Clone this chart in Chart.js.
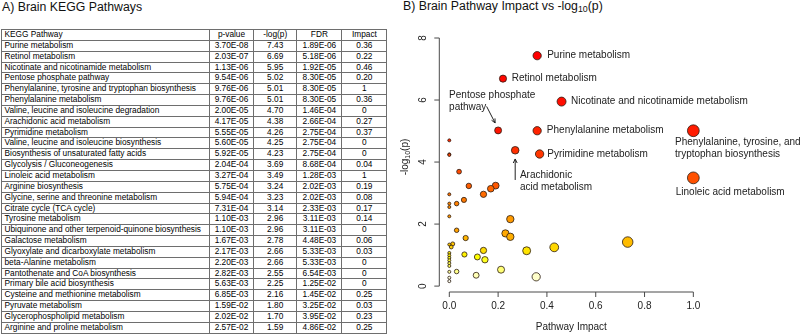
<!DOCTYPE html>
<html lang="en">
<head>
<meta charset="UTF-8" />
<title>Brain KEGG Pathways</title>
<script src="https://cdn.jsdelivr.net/npm/chart.js@4.4.1/dist/chart.umd.min.js"></script>
<style>
  html, body { margin: 0; padding: 0; background: #fff; }
  body {
    width: 802px; height: 336px; position: relative; overflow: hidden;
    font-family: "Liberation Sans", Arial, sans-serif; color: #000;
  }
  .panel-title { position: absolute; font-size: 12.3px; line-height: 14px; white-space: nowrap; color: #111; }
  #titleA { left: 2px; top: 0; }
  #titleB { left: 403px; top: -1px; }
  .panel-title sub { font-size: 8.8px; vertical-align: -2px; line-height: 0; }
  table {
    position: absolute; left: 1px; top: 29px;
    border-collapse: collapse; table-layout: fixed; width: 385.4px;
    font-size: 8.3px;
  }
  td, th {
    border: 1px solid #6e6e6e; padding: 0; height: 9.85px; line-height: 9.85px;
    font-weight: normal; text-align: center; white-space: nowrap; overflow: hidden;
  }
  td:first-child, th:first-child { text-align: left; padding-left: 2.5px; }
  #chartBox { position: absolute; left: 400px; top: 0; width: 402px; height: 336px; }
</style>
</head>
<body>
  <div class="panel-title" id="titleA">A) Brain KEGG Pathways</div>
  <div class="panel-title" id="titleB">B) Brain Pathway Impact vs -log<sub>10</sub>(p)</div>

  <table id="kegg">
    <colgroup>
      <col style="width:208px" />
      <col style="width:44px" />
      <col style="width:43.4px" />
      <col style="width:45px" />
      <col style="width:45px" />
    </colgroup>
    <thead></thead>
    <tbody></tbody>
  </table>

  <div id="chartBox"><canvas id="bubble" width="402" height="336"></canvas></div>

<script>
  // table columns
  const headers = ["KEGG Pathway", "p-value", "-log(p)", "FDR", "Impact"];
  const pathways = [
    "Purine metabolism",
    "Retinol metabolism",
    "Nicotinate and nicotinamide metabolism",
    "Pentose phosphate pathway",
    "Phenylalanine, tyrosine and tryptophan biosynthesis",
    "Phenylalanine metabolism",
    "Valine, leucine and isoleucine degradation",
    "Arachidonic acid metabolism",
    "Pyrimidine metabolism",
    "Valine, leucine and isoleucine biosynthesis",
    "Biosynthesis of unsaturated fatty acids",
    "Glycolysis / Gluconeogenesis",
    "Linoleic acid metabolism",
    "Arginine biosynthesis",
    "Glycine, serine and threonine metabolism",
    "Citrate cycle (TCA cycle)",
    "Tyrosine metabolism",
    "Ubiquinone and other terpenoid-quinone biosynthesis",
    "Galactose metabolism",
    "Glyoxylate and dicarboxylate metabolism",
    "beta-Alanine metabolism",
    "Pantothenate and CoA biosynthesis",
    "Primary bile acid biosynthesis",
    "Cysteine and methionine metabolism",
    "Pyruvate metabolism",
    "Glycerophospholipid metabolism",
    "Arginine and proline metabolism",
  ];
  const pValues = [
    "3.70E-08", "2.03E-07", "1.13E-06", "9.54E-06", "9.76E-06", "9.76E-06",
    "2.00E-05", "4.17E-05", "5.55E-05", "5.60E-05", "5.92E-05", "2.04E-04",
    "3.27E-04", "5.75E-04", "5.94E-04", "7.31E-04", "1.10E-03", "1.10E-03",
    "1.67E-03", "2.17E-03", "2.20E-03", "2.82E-03", "5.63E-03", "6.85E-03",
    "1.59E-02", "2.02E-02", "2.57E-02",
  ];
  const logP = [
    "7.43", "6.69", "5.95", "5.02", "5.01", "5.01", "4.70", "4.38", "4.26",
    "4.25", "4.23", "3.69", "3.49", "3.24", "3.23", "3.14", "2.96", "2.96",
    "2.78", "2.66", "2.66", "2.55", "2.25", "2.16", "1.80", "1.70", "1.59",
  ];
  const fdr = [
    "1.89E-06", "5.18E-06", "1.92E-05", "8.30E-05", "8.30E-05", "8.30E-05",
    "1.46E-04", "2.66E-04", "2.75E-04", "2.75E-04", "2.75E-04", "8.68E-04",
    "1.28E-03", "2.02E-03", "2.02E-03", "2.33E-03", "3.11E-03", "3.11E-03",
    "4.48E-03", "5.33E-03", "5.33E-03", "6.54E-03", "1.25E-02", "1.45E-02",
    "3.25E-02", "3.95E-02", "4.86E-02",
  ];
  const impact = [
    "0.36", "0.22", "0.46", "0.20", "1", "0.36", "0", "0.27", "0.37",
    "0", "0", "0.04", "1", "0.19", "0.08", "0.17", "0.14", "0",
    "0.06", "0.03", "0", "0", "0", "0.25", "0.03", "0.23", "0.25",
  ];

  // pathways in the plot that are not in the table
  const otherImpact = [
    0.067, 0.731, 0.014, 0, 0.008, 0.43, 0.14, 0.317, 0, 0.062, 0, 0.115,
    0, 0.146, 0, 0, 0, 0.212, 0.03, 0, 0.11, 0.356, 0, 0,
  ];
  const otherLogP = [
    1.55, 1.42, 1.36, 1.34, 1.26, 1.25, 1.15, 1.14, 1.07, 1.02, 0.99, 0.94,
    0.91, 0.85, 0.83, 0.74, 0.65, 0.53, 0.47, 0.46, 0.35, 0.30, 0.27, 0.16,
  ];

  const xTicks = [0, 0.2, 0.4, 0.6, 0.8, 1.0];
  const yTicks = [0, 2, 4, 6, 8];

  // labelled points: pathway name, text lines, offset from the point (px)
  const notes = [
    { name: "Purine metabolism", lines: ["Purine metabolism"], dx: 10, dy: 0 },
    { name: "Retinol metabolism", lines: ["Retinol metabolism"], dx: 8.7, dy: 0 },
    { name: "Nicotinate and nicotinamide metabolism", lines: ["Nicotinate and nicotinamide metabolism"], dx: 9.4, dy: 0 },
    { name: "Phenylalanine metabolism", lines: ["Phenylalanine metabolism"], dx: 9.7, dy: 0 },
    { name: "Pyrimidine metabolism", lines: ["Pyrimidine metabolism"], dx: 7.7, dy: 0 },
    { name: "Phenylalanine, tyrosine and tryptophan biosynthesis", lines: ["Phenylalanine, tyrosine, and", "tryptophan biosynthesis"], dx: -18.3, dy: 12 },
    { name: "Linoleic acid metabolism", lines: ["Linoleic acid metabolism"], dx: -17.6, dy: 14.4 },
    { name: "Pentose phosphate pathway", lines: ["Pentose phosphate", "pathway"], dx: -49, dy: -35,
      arrow: [-11.5, -24, -3, -7.5] },
    { name: "Arachidonic acid metabolism", lines: ["Arachidonic", "acid metabolism"], dx: 4.7, dy: 24.7,
      arrow: [0, 29.7, 0, 8.7] },
  ];

  // ---- table ----
  const thead = document.querySelector("#kegg thead");
  const tbody = document.querySelector("#kegg tbody");
  thead.innerHTML = "<tr>" + headers.map((h) => `<th>${h}</th>`).join("") + "</tr>";
  pathways.forEach((name, i) => {
    const tr = document.createElement("tr");
    [name, pValues[i], logP[i], fdr[i], impact[i]].forEach((v) => {
      const td = document.createElement("td");
      td.textContent = v;
      tr.appendChild(td);
    });
    tbody.appendChild(tr);
  });

  // ---- bubble chart ----
  const allImpact = impact.map(Number).concat(otherImpact);
  const allLogP = logP.map(Number).concat(otherLogP);

  function hsv(h, s, v) {
    const f = (n) => {
      const k = (n + h * 6) % 6;
      return v - v * s * Math.max(Math.min(k, 4 - k, 1), 0);
    };
    return `rgb(${Math.round(f(5) * 255)},${Math.round(f(3) * 255)},${Math.round(f(1) * 255)})`;
  }

  // same as R heat.colors(n)
  function heatColors(n) {
    const j = Math.floor(n / 4);
    const i = n - j;
    const out = [];
    for (let k = 0; k < i; k++) out.push(hsv((k / (i - 1)) / 6, 1, 1));
    for (let k = 0; k < j; k++) out.push(hsv(1 / 6, 1 - 1 / (2 * j) - k / j, 1));
    return out;
  }

  const order = allLogP.map((v, i) => i).sort((a, b) => allLogP[b] - allLogP[a]);
  const heat = heatColors(allLogP.length);
  const colors = [];
  order.forEach((idx, rank) => { colors[idx] = heat[rank]; });

  const radiusFor = (imp) => 1.5 + 4.4 * Math.sqrt(imp);

  const points = allImpact.map((imp, i) => ({ x: imp, y: allLogP[i], r: radiusFor(imp) }));

  function arrow(ctx, x1, y1, x2, y2) {
    const a = Math.atan2(y2 - y1, x2 - x1);
    const len = 4.5;
    ctx.beginPath();
    ctx.moveTo(x1, y1);
    ctx.lineTo(x2, y2);
    ctx.moveTo(x2 - len * Math.cos(a - 0.45), y2 - len * Math.sin(a - 0.45));
    ctx.lineTo(x2, y2);
    ctx.lineTo(x2 - len * Math.cos(a + 0.45), y2 - len * Math.sin(a + 0.45));
    ctx.stroke();
  }

  const rAxes = {
    id: "rAxes",
    afterDatasetsDraw(chart) {
      const { ctx, chartArea } = chart;
      const xs = chart.scales.x;
      const ys = chart.scales.y;
      const left = chartArea.left;
      const bottom = chartArea.bottom;
      ctx.save();
      ctx.strokeStyle = "#4a4a4a";
      ctx.lineWidth = 1;
      ctx.fillStyle = "#222";
      ctx.font = '10px "Liberation Sans", Arial, sans-serif';

      // y axis
      ctx.beginPath();
      ctx.moveTo(left, ys.getPixelForValue(yTicks[0]));
      ctx.lineTo(left, ys.getPixelForValue(yTicks[yTicks.length - 1]));
      yTicks.forEach((t) => {
        const py = ys.getPixelForValue(t);
        ctx.moveTo(left, py);
        ctx.lineTo(left - 5, py);
      });
      // x axis
      ctx.moveTo(xs.getPixelForValue(xTicks[0]), bottom);
      ctx.lineTo(xs.getPixelForValue(xTicks[xTicks.length - 1]), bottom);
      xTicks.forEach((t) => {
        const px = xs.getPixelForValue(t);
        ctx.moveTo(px, bottom);
        ctx.lineTo(px, bottom + 5);
      });
      ctx.stroke();

      ctx.textAlign = "center";
      ctx.textBaseline = "middle";
      yTicks.forEach((t) => {
        ctx.save();
        ctx.translate(left - 16, ys.getPixelForValue(t));
        ctx.rotate(-Math.PI / 2);
        ctx.fillText(String(t), 0, 0);
        ctx.restore();
      });
      xTicks.forEach((t) => {
        ctx.fillText(t.toFixed(1), xs.getPixelForValue(t), bottom + 14);
      });

      // axis titles
      ctx.fillText("Pathway Impact", (xs.getPixelForValue(0) + xs.getPixelForValue(1)) / 2, bottom + 35);
      ctx.save();
      ctx.translate(left - 34.5, 157);
      ctx.rotate(-Math.PI / 2);
      ctx.textAlign = "left";
      const big = '10px "Liberation Sans", Arial, sans-serif';
      const small = '7px "Liberation Sans", Arial, sans-serif';
      ctx.font = big;
      const w1 = ctx.measureText("-log").width;
      const w3 = ctx.measureText("(p)").width;
      ctx.font = small;
      const w2 = ctx.measureText("10").width;
      let cx = -(w1 + w2 + w3) / 2;
      ctx.font = big;
      ctx.fillText("-log", cx, 0);
      cx += w1;
      ctx.font = small;
      ctx.fillText("10", cx, 3);
      cx += w2;
      ctx.font = big;
      ctx.fillText("(p)", cx, 0);
      ctx.restore();

      // point labels and arrows
      ctx.textAlign = "left";
      ctx.font = '10px "Liberation Sans", Arial, sans-serif';
      ctx.strokeStyle = "#222";
      notes.forEach((n) => {
        const i = pathways.indexOf(n.name);
        const px = xs.getPixelForValue(allImpact[i]);
        const py = ys.getPixelForValue(allLogP[i]);
        n.lines.forEach((line, k) => {
          ctx.fillText(line, px + n.dx, py + n.dy + k * 11.8);
        });
        if (n.arrow) {
          const a = n.arrow;
          arrow(ctx, px + a[0], py + a[1], px + a[2], py + a[3]);
        }
      });
      ctx.restore();
    },
  };

  new Chart(document.getElementById("bubble"), {
    type: "bubble",
    data: {
      datasets: [{
        data: points,
        backgroundColor: colors,
        borderColor: "rgba(45,30,20,0.9)",
        borderWidth: 0.9,
      }],
    },
    options: {
      responsive: false,
      devicePixelRatio: 1,
      animation: false,
      layout: { padding: { left: 39.3, right: 98.9, top: 28.7, bottom: 44 } },
      plugins: { legend: { display: false }, tooltip: { enabled: false } },
      scales: {
        x: { type: "linear", min: -0.041, max: 1.04, display: false },
        y: { type: "linear", min: -0.19, max: 8.3, display: false },
      },
    },
    plugins: [rAxes],
  });
</script>
</body>
</html>
